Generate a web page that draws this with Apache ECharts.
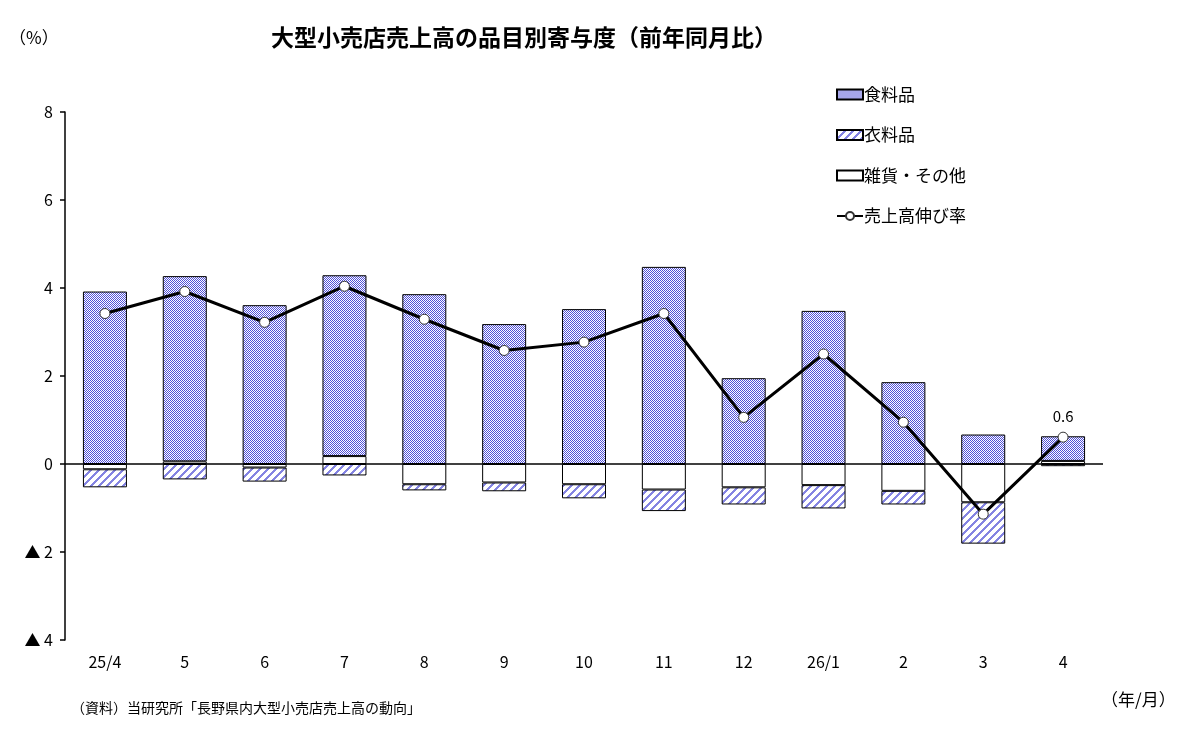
<!DOCTYPE html>
<html>
<head>
<meta charset="utf-8">
<script src="https://cdn.jsdelivr.net/npm/echarts@6/dist/echarts.min.js"></script>
<style>
  html, body { margin: 0; padding: 0; background: #fff; }
  #chart { width: 1198px; height: 741px; }
</style>
</head>
<body>
<div id="chart"></div>
<script>
var months = ['25/4', '5', '6', '7', '8', '9', '10', '11', '12', '26/1', '2', '3', '4']
// 寄与度 (%)
var food = [3.92, 4.21, 3.61, 4.11, 3.86, 3.18, 3.52, 4.48, 1.95, 3.48, 1.86, 0.67, 0.56]
var clothing = [-0.41, -0.35, -0.32, -0.26, -0.14, -0.20, -0.32, -0.49, -0.39, -0.53, -0.31, -0.94, -0.05]
var misc = [-0.12, 0.06, -0.08, 0.18, -0.46, -0.42, -0.46, -0.58, -0.53, -0.48, -0.61, -0.87, 0.07]
var growth = [3.42, 3.92, 3.22, 4.04, 3.29, 2.58, 2.77, 3.42, 1.06, 2.50, 0.95, -1.14, 0.61]

var FONT = '"Noto Sans CJK JP", "Noto Sans", sans-serif'

// 食料品: 細かい市松模様
function checkerPattern() {
  var c = document.createElement('canvas')
  c.width = 2
  c.height = 2
  var ctx = c.getContext('2d')
  ctx.fillStyle = '#fff'
  ctx.fillRect(0, 0, 2, 2)
  ctx.fillStyle = '#5050d8'
  ctx.fillRect(0, 0, 1, 1)
  ctx.fillRect(1, 1, 1, 1)
  return c
}

// 衣料品: 斜線
function stripePattern() {
  var n = 8
  var c = document.createElement('canvas')
  c.width = n
  c.height = n
  var ctx = c.getContext('2d')
  ctx.fillStyle = '#fff'
  ctx.fillRect(0, 0, n, n)
  ctx.fillStyle = '#8484e2'
  for (var y = 0; y < n; y++) {
    for (var k = 0; k < 3; k++) {
      var x = (n - 1 - y + k) % n
      ctx.fillRect(x, y, 1, 1)
    }
  }
  return c
}

var myChart = echarts.init(document.getElementById('chart'))

var barBase = {
  type: 'bar',
  stack: 'total',
  barWidth: 44,
  emphasis: { disabled: true }
}

var option = {
  animation: false,
  textStyle: { fontFamily: FONT },
  title: [{
    text: '大型小売店売上高の品目別寄与度（前年同月比）',
    left: 266,
    top: 21,
    textStyle: { fontSize: 23, fontWeight: 'bold', color: '#000', fontFamily: FONT }
  }, {
    text: '（%）',
    left: 4,
    top: 24,
    textStyle: { fontSize: 17, fontWeight: 'normal', color: '#000', fontFamily: FONT }
  }, {
    text: '（資料）当研究所「長野県内大型小売店売上高の動向」',
    left: 66,
    top: 696,
    textStyle: { fontSize: 14, fontWeight: 'normal', color: '#000', fontFamily: FONT }
  }, {
    text: '（年/月）',
    left: 1096,
    top: 686,
    textStyle: { fontSize: 17, fontWeight: 'normal', color: '#000', fontFamily: FONT }
  }],
  legend: {
    orient: 'vertical',
    left: 831,
    top: 81,
    itemGap: 23.5,
    itemWidth: 26,
    itemHeight: 10,
    data: [
      { name: '食料品', icon: 'rect' },
      { name: '衣料品', icon: 'rect' },
      { name: '雑貨・その他', icon: 'rect' },
      { name: '売上高伸び率' }
    ],
    textStyle: { fontSize: 17, color: '#000', fontFamily: FONT, padding: [0, 0, 0, -4] },
    selectedMode: false
  },
  grid: {
    left: 65,
    right: 95,
    top: 112,
    bottom: 101
  },
  xAxis: {
    type: 'category',
    data: months,
    axisLine: { show: false },
    axisTick: { show: false },
    axisLabel: { color: '#000', fontSize: 16, margin: 14, fontFamily: FONT }
  },
  yAxis: {
    type: 'value',
    min: -4,
    max: 8,
    interval: 2,
    axisLine: { show: true, lineStyle: { color: '#000', width: 1.5 } },
    axisTick: { show: true, length: 5, lineStyle: { color: '#000', width: 1.5 } },
    splitLine: { show: false },
    axisLabel: {
      color: '#000',
      fontSize: 16,
      margin: 12,
      fontFamily: FONT,
      formatter: function (v) {
        return v < 0 ? '▲ ' + Math.abs(v) : String(v)
      }
    }
  },
  series: [
    Object.assign({}, barBase, {
      name: '雑貨・その他',
      data: misc,
      itemStyle: { color: '#fff', borderColor: '#000', borderWidth: 1 }
    }),
    Object.assign({}, barBase, {
      name: '衣料品',
      data: clothing,
      itemStyle: { color: { image: stripePattern(), repeat: 'repeat' }, borderColor: '#000', borderWidth: 1 }
    }),
    Object.assign({}, barBase, {
      name: '食料品',
      data: food,
      itemStyle: { color: { image: checkerPattern(), repeat: 'repeat' }, borderColor: '#000', borderWidth: 1 },
      markLine: {
        silent: true,
        symbol: 'none',
        label: { show: false },
        lineStyle: { color: '#000', width: 1.5, type: 'solid' },
        data: [{ yAxis: 0 }]
      }
    }),
    {
      name: '売上高伸び率',
      type: 'line',
      data: growth,
      z: 5,
      symbol: 'circle',
      symbolSize: 10,
      lineStyle: { color: '#000', width: 3 },
      itemStyle: { color: '#fff', borderColor: '#333', borderWidth: 1 },
      emphasis: { disabled: true },
      label: {
        show: true,
        position: 'top',
        distance: 8,
        fontSize: 15,
        color: '#000',
        fontFamily: FONT,
        formatter: function (p) {
          return p.dataIndex === growth.length - 1 ? p.value.toFixed(1) : ''
        }
      }
    }
  ]
}

myChart.setOption(option)
window.addEventListener('resize', function () {
  myChart.resize()
})
</script>
</body>
</html>
